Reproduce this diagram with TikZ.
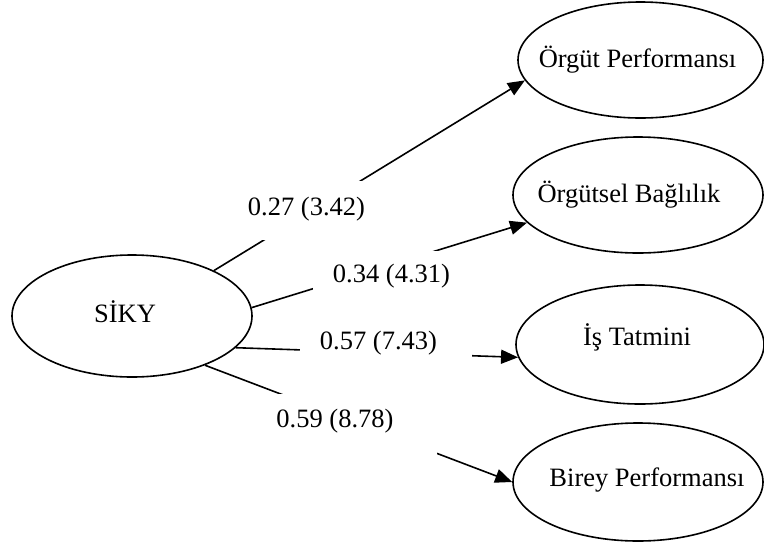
\documentclass[tikz,border=0pt]{standalone}
\usepackage{fontspec}
\setmainfont{Liberation Serif}
\usetikzlibrary{shapes.geometric,arrows.meta}
\begin{document}
\begin{tikzpicture}[x=1pt,y=-1pt,
  every node/.style={font=\fontsize{26.5}{30}\selectfont},
  oval/.style={ellipse, draw, line width=1.6pt, inner sep=0pt},
  link/.style={line width=1.6pt, -{Triangle[length=17pt,width=14pt]}},
  gapbox/.style={fill=white, inner sep=0pt}]
\useasboundingbox (0,0) rectangle (764,547);

% latent variables
\node[oval, minimum width=240pt, minimum height=122pt,
      label={[xshift=-7pt,yshift=4pt]center:SİKY}] (siky) at (132,316) {};
\node[oval, minimum width=245pt, minimum height=116pt,
      label={[xshift=-3pt]center:Örgüt Performansı}] (orgp) at (640.5,60) {};
\node[oval, minimum width=250pt, minimum height=116pt,
      label={[xshift=-9pt]center:Örgütsel Bağlılık}] (orgb) at (638,195) {};
\node[oval, minimum width=248pt, minimum height=119pt,
      label={[xshift=-3pt,yshift=7pt]center:İş Tatmini}] (ist) at (640,344.5) {};
\node[oval, minimum width=250pt, minimum height=118pt,
      label={[xshift=9pt,yshift=2pt]center:Birey Performansı}] (birp) at (638,482) {};

% paths
\draw[link] (siky.29.4) -- (orgp.190.6);
\draw[link] (siky.4.8) -- (orgb.194.8);
\draw[link] (siky.-17.6) -- (ist.186.8);
\draw[link] (siky.-34.6) -- (birp.180);

% coefficient labels on white boxes that interrupt the paths
\node[gapbox, minimum width=123pt, minimum height=59pt,
      label={[yshift=1pt]center:0.27 (3.42)}] (c1) at (306.5,210.5) {};
\node[gapbox, minimum width=147pt, minimum height=50pt,
      label={[xshift=5pt]center:0.34 (4.31)}] (c2) at (386.5,276) {};
\node[gapbox, minimum width=172pt, minimum height=43pt,
      label={[xshift=-7.5pt,yshift=3.5pt]center:0.57 (7.43)}] (c3) at (386,346.5) {};
\node[gapbox, minimum width=167pt, minimum height=64pt,
      label={[xshift=-18.5pt,yshift=5pt]center:0.59 (8.78)}] (c4) at (353.5,426) {};
\end{tikzpicture}
\end{document}
